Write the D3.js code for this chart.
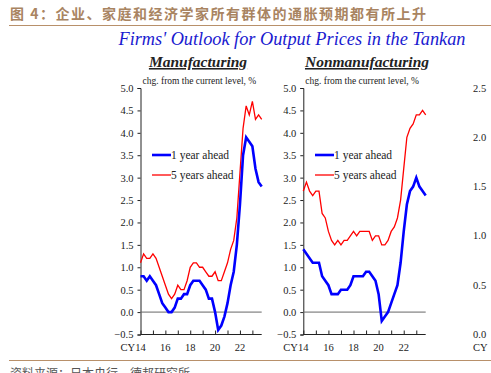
<!DOCTYPE html>
<html>
<head>
<meta charset="utf-8">
<script src="https://cdn.jsdelivr.net/npm/d3@7"></script>
<style>
  body { margin: 0; background: #fff; }
  svg { display: block; }
</style>
</head>
<body>
<script>
// quarterly, 2014Q1 .. 2023Q4
var quarters = d3.range(40).map(function(i) { return 2014 + i * 0.25; });

var manuOneYear = [0.8,0.8,0.7,0.8,0.7,0.6,0.4,0.2,0.1,0.0,
                   0.0,0.1,0.3,0.3,0.4,0.4,0.6,0.7,0.7,0.7,
                   0.6,0.5,0.3,0.3,0.0,-0.4,-0.3,-0.1,0.2,0.6,
                   0.9,1.5,2.4,3.5,3.9,3.8,3.7,3.2,2.9,2.8];
var manuFiveYears = [1.1,1.3,1.2,1.2,1.3,1.2,1.0,0.8,0.6,0.4,
                     0.3,0.4,0.6,0.5,0.5,0.7,1.0,1.1,1.1,1.0,
                     1.0,0.9,0.8,0.8,0.9,0.7,0.7,0.9,1.1,1.4,
                     1.6,2.1,3.1,4.1,4.6,4.4,4.7,4.3,4.4,4.3];
var nonmanuOneYear = [1.4,1.3,1.2,1.1,1.1,1.1,0.8,0.7,0.6,0.4,
                      0.4,0.4,0.5,0.5,0.5,0.6,0.8,0.8,0.8,0.8,
                      0.9,0.9,0.8,0.7,0.4,-0.2,-0.1,0.0,0.2,0.4,
                      0.6,1.1,1.8,2.4,2.7,2.8,3.0,2.8,2.7,2.6];
var nonmanuFiveYears = [2.7,2.9,2.7,2.6,2.7,2.7,2.2,2.1,1.8,1.6,
                        1.5,1.6,1.5,1.6,1.6,1.7,1.8,1.7,1.8,1.8,
                        1.8,1.8,1.6,1.7,1.7,1.5,1.5,1.6,1.8,1.9,
                        2.1,2.5,3.2,3.9,4.1,4.2,4.4,4.4,4.5,4.4];

var yTicks = [-0.5,0,0.5,1,1.5,2,2.5,3,3.5,4,4.5,5];
var yTicksThird = [0,0.5,1,1.5,2,2.5];
var xTickYears = [2014,2015,2016,2017,2018,2019,2020,2021,2022,2023];
var xLabelYears = [2014,2016,2018,2020,2022];
var legendNames = ["1 year ahead", "5 years ahead"];

var width = 491, height = 373;
var serif = "'Liberation Serif', 'Times New Roman', serif";

var svg = d3.select("body").append("svg")
    .attr("width", width)
    .attr("height", height);

// chinese header + rule
svg.append("text")
    .attr("x", 10).attr("y", 18.5)
    .attr("font-family", "'Noto Sans CJK SC', sans-serif")
    .attr("font-size", 14)
    .attr("font-weight", "bold")
    .attr("letter-spacing", 1.5)
    .attr("fill", "#a98461")
    .text("图 4：企业、家庭和经济学家所有群体的通胀预期都有所上升");
svg.append("line")
    .attr("x1", 9).attr("x2", width).attr("y1", 25.5).attr("y2", 25.5)
    .attr("stroke", "#b8906a").attr("stroke-width", 1.2);

svg.append("text")
    .attr("x", 292).attr("y", 45)
    .attr("text-anchor", "middle")
    .attr("font-family", serif)
    .attr("font-style", "italic")
    .attr("font-size", 18.3)
    .attr("fill", "#1a1ad0")
    .text("Firms' Outlook for Output Prices in the Tankan");

var y = d3.scaleLinear().domain([-0.5, 5]).range([334.5, 88]);

function panel(x0, x1, title, titleX, oneYear, fiveYears, legendX) {
  var x = d3.scaleLinear().domain([2014, 2023.75]).range([x0, x1]);
  var g = svg.append("g");

  // subtitle, bold italic underlined
  g.append("text")
      .attr("x", titleX).attr("y", 67)
      .attr("text-anchor", "middle")
      .attr("font-family", serif)
      .attr("font-style", "italic")
      .attr("font-weight", "bold")
      .attr("font-size", 15.5)
      .attr("fill", "#222")
      .attr("text-decoration", "underline")
      .text(title);

  g.append("text")
      .attr("x", x0 + 2).attr("y", 84)
      .attr("font-family", serif)
      .attr("font-size", 9.5)
      .attr("fill", "#222")
      .text("chg. from the current level, %");

  // y axis
  var yAxis = d3.axisLeft(y).tickValues(yTicks).tickSize(3).tickPadding(4)
      .tickFormat(d3.format(".1f"));
  var ya = g.append("g").attr("transform", "translate(" + x0 + ",0)").call(yAxis);
  ya.attr("font-family", serif);
  ya.select(".domain").attr("stroke", "#222");
  ya.selectAll(".tick line").attr("stroke", "#222");
  ya.selectAll("text").attr("font-family", serif).attr("font-size", 10.5).attr("fill", "#222");

  // x axis (bottom at -0.5)
  var xAxis = d3.axisBottom(x).tickValues(xTickYears).tickSize(-4).tickFormat("");
  var xa = g.append("g").attr("transform", "translate(0," + y(-0.5) + ")").call(xAxis);
  xa.select(".domain").attr("d", "M" + x0 + ",0H" + x1).attr("stroke", "#222");
  xa.selectAll(".tick line").attr("stroke", "#222");

  g.selectAll(".xlab").data(xLabelYears).enter().append("text")
      .attr("class", "xlab")
      .attr("x", function(d) { return x(d); })
      .attr("y", 351)
      .attr("text-anchor", "middle")
      .attr("font-family", serif)
      .attr("font-size", 10.5)
      .attr("fill", "#222")
      .text(function(d) { return String(d).slice(2); });
  g.append("text")
      .attr("x", x(2014) - 5.5).attr("y", 351)
      .attr("text-anchor", "end")
      .attr("font-family", serif)
      .attr("font-size", 10.5)
      .attr("fill", "#222")
      .text("CY");

  // zero line
  g.append("line")
      .attr("x1", x0).attr("x2", x1)
      .attr("y1", y(0)).attr("y2", y(0))
      .attr("stroke", "#666").attr("stroke-width", 1);

  var line = d3.line()
      .x(function(d, i) { return x(quarters[i]); })
      .y(function(d) { return y(d); });

  g.append("path").datum(fiveYears)
      .attr("d", line).attr("fill", "none")
      .attr("stroke", "#ff0000").attr("stroke-width", 1.3);
  g.append("path").datum(oneYear)
      .attr("d", line).attr("fill", "none")
      .attr("stroke", "#0000ff").attr("stroke-width", 2.6);

  // legend
  var leg = [{c: "#0000ff", w: 2.6, yy: 155}, {c: "#ff0000", w: 1.3, yy: 175}];
  leg.forEach(function(l, i) {
    g.append("line")
        .attr("x1", legendX).attr("x2", legendX + 19)
        .attr("y1", l.yy).attr("y2", l.yy)
        .attr("stroke", l.c).attr("stroke-width", l.w);
    g.append("text")
        .attr("x", legendX + 19).attr("y", l.yy + 4)
        .attr("font-family", serif)
        .attr("font-size", 11.5)
        .attr("fill", "#222")
        .text(legendNames[i]);
  });
}

panel(140.5, 261.7, "Manufacturing", 198, manuOneYear, manuFiveYears, 152);
panel(303.3, 425.7, "Nonmanufacturing", 367, nonmanuOneYear, nonmanuFiveYears, 315);

// third panel, cut off at the right edge
var y3 = d3.scaleLinear().domain([0, 2.5]).range([334.5, 88]);
svg.selectAll(".y3").data(yTicksThird).enter().append("text")
    .attr("class", "y3")
    .attr("x", 473)
    .attr("y", function(d) { return y3(d) + 3.5; })
    .attr("font-family", serif)
    .attr("font-size", 10.5)
    .attr("fill", "#222")
    .text(d3.format(".1f"));
svg.append("text")
    .attr("x", 473).attr("y", 351)
    .attr("font-family", serif)
    .attr("font-size", 10.5)
    .attr("fill", "#222")
    .text("CY");

// bottom rule and source
svg.append("line")
    .attr("x1", 9).attr("x2", width).attr("y1", 360.5).attr("y2", 360.5)
    .attr("stroke", "#b8906a").attr("stroke-width", 1.2);
svg.append("text")
    .attr("x", 10).attr("y", 378)
    .attr("font-family", "'Noto Sans CJK SC', sans-serif")
    .attr("font-size", 12)
    .attr("fill", "#555")
    .text("资料来源：日本央行，德邦研究所");
</script>
</body>
</html>
